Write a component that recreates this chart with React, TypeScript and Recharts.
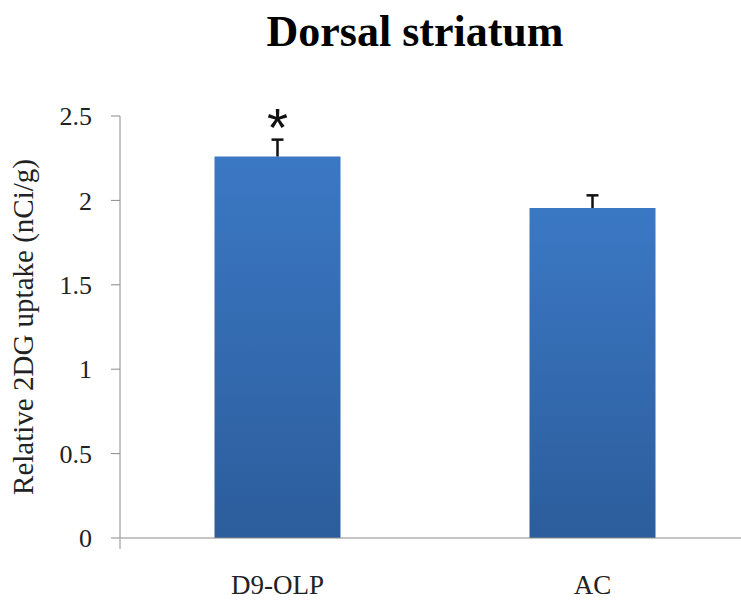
import { BarChart, Bar, XAxis, YAxis, LabelList } from "recharts";

const categories = ["D9-OLP", "AC"];
const means = [2.26, 1.955];
const errors = [0.1, 0.075];
const marks = ["*", ""];
const yTicks = [0, 0.5, 1, 1.5, 2, 2.5];

const data = categories.map((name, i) => ({
  name,
  mean: means[i],
  err: errors[i],
  sig: marks[i],
}));

const serif = "'Liberation Serif', 'Times New Roman', serif";
const axisGray = "#8a8a8a";

// the error bar is drawn as the stacked segment above the mean: stem + top cap
const ErrorT = (props: any) => {
  const { x, y, width, height } = props;
  const cx = x + width / 2;
  return (
    <g stroke="#111" strokeWidth={2.5}>
      <line x1={cx} y1={y} x2={cx} y2={y + height} />
      <line x1={cx - 6} y1={y} x2={cx + 6} y2={y} />
    </g>
  );
};

const YLabel = ({ viewBox }: any) => {
  const x = viewBox.x + 33;
  const y = viewBox.y + viewBox.height / 2;
  return (
    <text
      x={x}
      y={y}
      transform={`rotate(-90, ${x}, ${y})`}
      textAnchor="middle"
      fontFamily={serif}
      fontSize={29}
      fill="#222"
    >
      Relative 2DG uptake (nCi/g)
    </text>
  );
};

const App = () => {
  return (
    <div
      style={{
        position: "absolute",
        top: 0,
        left: 0,
        width: 741,
        height: 600,
        overflow: "hidden",
        background: "#fff",
      }}
    >
      <div
        style={{
          position: "absolute",
          top: 10,
          left: 0,
          width: 830,
          textAlign: "center",
          fontFamily: serif,
          fontWeight: "bold",
          fontSize: 44,
          lineHeight: "44px",
          color: "#000",
        }}
      >
        Dorsal striatum
      </div>
      <BarChart
        width={750}
        height={600}
        data={data}
        margin={{ top: 116, right: 0, bottom: 0, left: 0 }}
        barCategoryGap="30%"
      >
        <defs>
          <linearGradient id="barFill" x1="0" y1="0" x2="0" y2="1">
            <stop offset="0%" stopColor="#3b78c4" />
            <stop offset="100%" stopColor="#2c5d9c" />
          </linearGradient>
        </defs>
        <YAxis
          domain={[0, 2.5]}
          ticks={yTicks}
          width={120}
          stroke={axisGray}
          tickSize={9}
          tickMargin={19}
          tick={{ fontFamily: serif, fontSize: 26, fill: "#222" }}
          label={<YLabel />}
        />
        <XAxis
          dataKey="name"
          height={1}
          stroke={axisGray}
          tickLine={false}
          tickSize={0}
          tickMargin={37}
          tick={{ fontFamily: serif, fontSize: 27, fill: "#222" }}
        />
        {/* boundary ticks between categories, sits just under the axis line */}
        <XAxis
          xAxisId="edge"
          type="number"
          domain={[0, categories.length]}
          ticks={categories.map((_, i) => i).concat(categories.length)}
          height={61}
          axisLine={false}
          stroke={axisGray}
          tickSize={10}
          tickFormatter={() => ""}
        />
        <Bar
          dataKey="mean"
          stackId="s"
          fill="url(#barFill)"
          isAnimationActive={false}
        />
        <Bar dataKey="err" stackId="s" shape={<ErrorT />} isAnimationActive={false}>
          <LabelList
            dataKey="sig"
            position="top"
            offset={-6}
            style={{ fontFamily: "'Liberation Sans', Arial, sans-serif", fontSize: 54, fill: "#111" }}
          />
        </Bar>
      </BarChart>
    </div>
  );
};

export default App;
